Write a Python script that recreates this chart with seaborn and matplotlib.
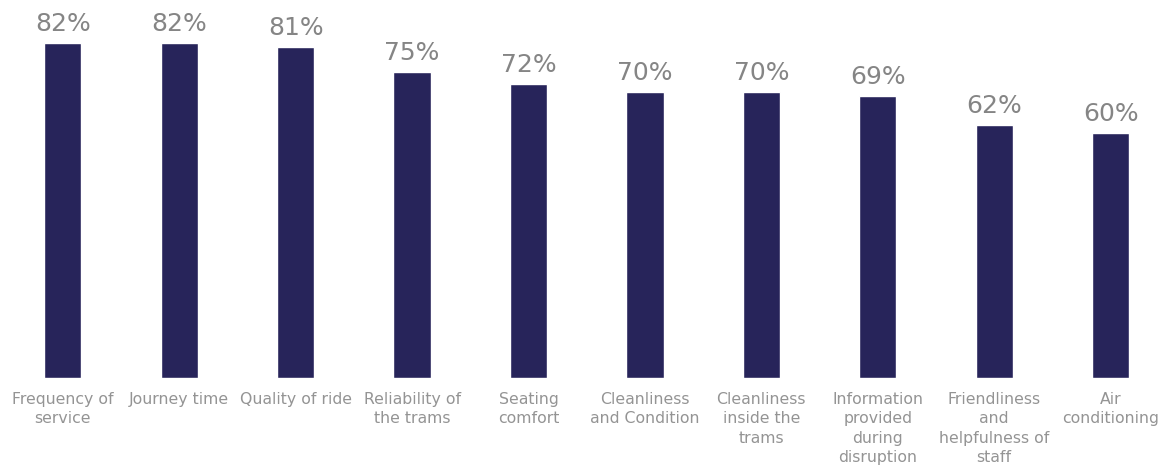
import matplotlib
matplotlib.use('Agg')
import matplotlib.pyplot as plt
import seaborn as sns
import pandas as pd

# Chart values
categories = [
    'Frequency of\nservice', 'Journey time', 'Quality of ride', 'Reliability of\nthe trams',
    'Seating\ncomfort', 'Cleanliness\nand Condition', 'Cleanliness\ninside the\ntrams',
    'Information\nprovided\nduring\ndisruption', 'Friendliness\nand\nhelpfulness of\nstaff',
    'Air\nconditioning',
]
scores = [82, 82, 81, 75, 72, 70, 70, 69, 62, 60]

df = pd.DataFrame({'Category': categories, 'Score': scores})

sns.set_style('white')
plt.rcParams['font.family'] = ['DejaVu Sans']

fig = plt.figure(figsize=(11.63, 4.65), dpi=100)
ax = fig.add_axes([0, 0.187, 1, 0.813])

sns.barplot(data=df, x='Category', y='Score', color='#27245a', width=0.32,
            saturation=1, ax=ax)

for i, v in enumerate(scores):
    ax.text(i, v + 1.7, f'{v}%', ha='center', va='bottom', fontsize=18, color='#858585')

ax.set_xlim(-0.54, 9.45)
ax.set_ylim(0, 92.6)
ax.set_xlabel('')
ax.set_ylabel('')
ax.set_yticks([])
ax.tick_params(axis='x', length=0, pad=10, labelsize=11.3, labelcolor='#949494')
for lbl in ax.get_xticklabels():
    lbl.set_linespacing(1.36)
sns.despine(ax=ax, left=True, bottom=True)

fig.savefig('out.png', dpi=100)
